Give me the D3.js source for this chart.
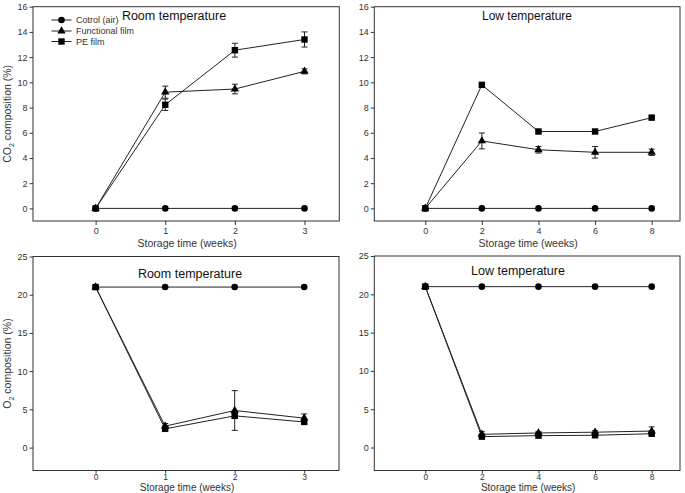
<!DOCTYPE html>
<html><head><meta charset="utf-8">
<script src="https://cdn.jsdelivr.net/npm/d3@7"></script>
<style>body{margin:0;background:#fff}svg{display:block;font-family:"Liberation Sans",Arial,sans-serif}</style>
</head><body><svg id="c" width="685" height="493"></svg>
<script>
// ---- data ----
const weeksRoom = [0, 1, 2, 3];
const weeksLow = [0, 2, 4, 6, 8];
const seriesNames = ["Cotrol (air)", "Functional film", "PE film"];

const co2RoomControl = [0, 0, 0, 0];
const co2RoomFunctional = [0, 9.22, 9.47, 10.87];
const co2RoomFunctionalErr = [0, 0.48, 0.38, 0.2];
const co2RoomPE = [0, 8.22, 12.55, 13.4];
const co2RoomPEErr = [0, 0.45, 0.55, 0.6];

const co2LowControl = [0, 0, 0, 0, 0];
const co2LowFunctional = [0, 5.35, 4.65, 4.45, 4.45];
const co2LowFunctionalErr = [0, 0.63, 0.26, 0.46, 0.25];
const co2LowPE = [0, 9.8, 6.1, 6.1, 7.2];
const co2LowPEErr = [0, 0.1, 0.1, 0.1, 0.1];

const o2RoomControl = [21, 21, 21, 21];
const o2RoomFunctional = [21, 2.8, 4.85, 3.85];
const o2RoomFunctionalErr = [0, 0.35, 2.6, 0.55];
const o2RoomPE = [21, 2.45, 4.15, 3.35];
const o2RoomPEErr = [0, 0.2, 0.3, 0.2];

const o2LowControl = [21, 21, 21, 21, 21];
const o2LowFunctional = [21, 1.72, 1.9, 2.0, 2.15];
const o2LowFunctionalErr = [0, 0.35, 0.2, 0.2, 0.55];
const o2LowPE = [21, 1.42, 1.55, 1.6, 1.8];
const o2LowPEErr = [0, 0.15, 0.12, 0.12, 0.15];

const co2Ticks = [0, 2, 4, 6, 8, 10, 12, 14, 16];
const o2Ticks = [0, 5, 10, 15, 20, 25];

// ---- layout ----
const svg = d3.select("#c");
const lineCol = "#222", frameCol = "#333", textCol = "#333";

const panels = [
  {x0:33, x1:339.3, y0:6.7, y1:221, xd:[-0.9,3.5], yd:[-1,16], weeks:weeksRoom, yt:co2Ticks,
   ctrl:co2RoomControl, fn:co2RoomFunctional, fnE:co2RoomFunctionalErr, pe:co2RoomPE, peE:co2RoomPEErr,
   title:"Room temperature", tx:174, ty:19.5, tfs:12.5, ylab:"CO2", legend:true, xlabY:246.5, pad:3, tsz:4, xfs:9, lfs:10.5},
  {x0:374.3, x1:680, y0:6.7, y1:221, xd:[-1.8,9], yd:[-1,16], weeks:weeksLow, yt:co2Ticks,
   ctrl:co2LowControl, fn:co2LowFunctional, fnE:co2LowFunctionalErr, pe:co2LowPE, peE:co2LowPEErr,
   title:"Low temperature", tx:527, ty:20, tfs:12, xlabY:246.5, pad:3, tsz:4, xfs:9, lfs:10.5},
  {x0:33, x1:339, y0:256.5, y1:470.5, xd:[-0.9,3.5], yd:[-3,25], weeks:weeksRoom, yt:o2Ticks,
   ctrl:o2RoomControl, fn:o2RoomFunctional, fnE:o2RoomFunctionalErr, pe:o2RoomPE, peE:o2RoomPEErr,
   title:"Room temperature", tx:190, ty:277.5, tfs:12.5, ylab:"O2", xlabY:491.3, pad:0.5, tsz:3, xfs:8.5, lfs:10},
  {x0:374.3, x1:680, y0:256, y1:470.5, xd:[-1.8,9], yd:[-3,25], weeks:weeksLow, yt:o2Ticks,
   ctrl:o2LowControl, fn:o2LowFunctional, fnE:o2LowFunctionalErr, pe:o2LowPE, peE:o2LowPEErr,
   title:"Low temperature", tx:518, ty:275, tfs:12.5, xlabY:491.3, pad:0.5, tsz:3, xfs:8.5, lfs:10}
];

function marker(g, type, x, y) {
  if (type === 0) g.append("circle").attr("cx", x).attr("cy", y).attr("r", 3.3).attr("fill", "#000");
  else if (type === 1) g.append("path").attr("d", d3.symbol(d3.symbolTriangle, 30)()).attr("transform", `translate(${x},${y})`).attr("fill", "#000");
  else g.append("rect").attr("x", x - 3.2).attr("y", y - 3.2).attr("width", 6.4).attr("height", 6.4).attr("fill", "#000");
}

panels.forEach(p => {
  const x = d3.scaleLinear().domain(p.xd).range([p.x0, p.x1]);
  const y = d3.scaleLinear().domain(p.yd).range([p.y1, p.y0]);
  const g = svg.append("g");

  // axes
  const ax = g.append("g").attr("transform", `translate(0,${p.y1})`)
    .call(d3.axisBottom(x).tickValues(p.weeks).tickSize(p.tsz).tickPadding(p.pad).tickFormat(d3.format("d")));
  const ay = g.append("g").attr("transform", `translate(${p.x0},0)`)
    .call(d3.axisLeft(y).tickValues(p.yt).tickSize(3.5).tickPadding(2).tickFormat(d3.format("d")));
  [ax, ay].forEach(a => {
    a.select(".domain").remove();
    a.selectAll(".tick line").attr("stroke", frameCol);
    a.selectAll(".tick text").attr("fill", textCol).style("font-size", "9px").style("font-family", "'Liberation Sans',Arial,sans-serif");
  });
  ax.selectAll(".tick text").style("font-size", p.xfs + "px");
  g.append("rect").attr("x", p.x0).attr("y", p.y0).attr("width", p.x1 - p.x0).attr("height", p.y1 - p.y0)
    .attr("fill", "none").attr("stroke", frameCol).attr("stroke-width", 1);

  // x label
  g.append("text").attr("x", (p.x0 + p.x1) / 2 + 1).attr("y", p.xlabY).attr("text-anchor", "middle")
    .attr("fill", textCol).style("font-size", p.lfs + "px").text("Storage time (weeks)");

  // y label
  if (p.ylab) {
    const t = g.append("text").attr("transform", `translate(11,${(p.y0 + p.y1) / 2}) rotate(-90)`)
      .attr("text-anchor", "middle").attr("fill", textCol).style("font-size", "10.5px");
    t.append("tspan").text(p.ylab.slice(0, -1));
    t.append("tspan").attr("dy", 3).style("font-size", "7px").text(p.ylab.slice(-1));
    t.append("tspan").attr("dy", -3).text(" composition (%)");
  }

  // title
  g.append("text").attr("x", p.tx).attr("y", p.ty).attr("text-anchor", "middle").attr("fill", "#111")
    .style("font-size", p.tfs + "px").text(p.title);

  const line = d3.line().x((d, i) => x(p.weeks[i])).y(d => y(d));
  const sets = [[p.ctrl, null], [p.fn, p.fnE], [p.pe, p.peE]];
  // lines
  sets.forEach(([vals]) => {
    g.append("path").attr("d", line(vals)).attr("fill", "none").attr("stroke", lineCol).attr("stroke-width", 1);
  });
  // error bars
  sets.forEach(([vals, err]) => {
    if (!err) return;
    vals.forEach((v, i) => {
      if (!err[i]) return;
      const cx = x(p.weeks[i]), yt = y(v + err[i]), yb = y(v - err[i]);
      g.append("line").attr("x1", cx).attr("x2", cx).attr("y1", yt).attr("y2", yb).attr("stroke", lineCol).attr("stroke-width", 1);
      [yt, yb].forEach(yy => g.append("line").attr("x1", cx - 3).attr("x2", cx + 3).attr("y1", yy).attr("y2", yy)
        .attr("stroke", lineCol).attr("stroke-width", 1));
    });
  });
  // markers
  sets.forEach(([vals], k) => {
    vals.forEach((v, i) => marker(g, k, x(p.weeks[i]), y(v)));
  });

  // legend
  if (p.legend) {
    const rows = [20, 31, 41.5];
    seriesNames.forEach((n, k) => {
      g.append("line").attr("x1", 51.5).attr("x2", 71.5).attr("y1", rows[k]).attr("y2", rows[k]).attr("stroke", lineCol);
      marker(g, k, 61.5, rows[k]);
      g.append("text").attr("x", 76).attr("y", rows[k] + 3.2).attr("fill", textCol).style("font-size", "9px").text(n);
    });
  }
});
</script></body></html>
